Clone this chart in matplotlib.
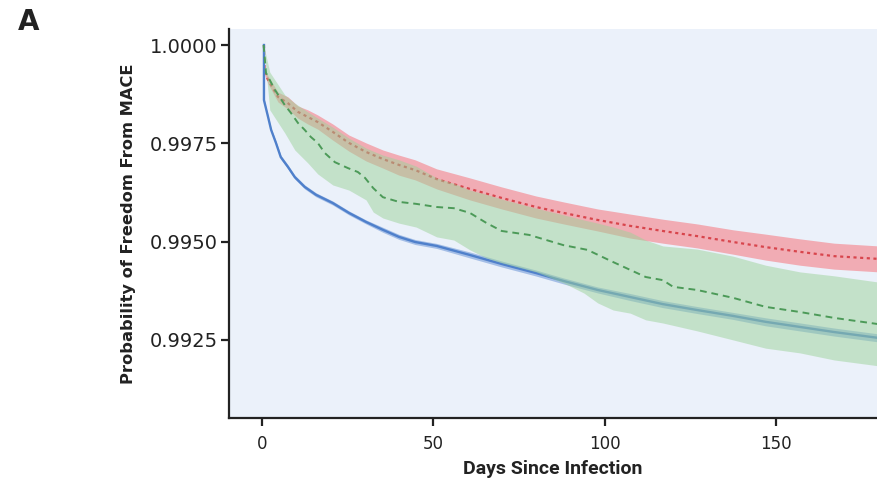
import matplotlib
matplotlib.use("Agg")
import matplotlib.pyplot as plt
import numpy as np

# ---------------- data ----------------
blue_days = [0.6, 0.6, 1.8, 2.7, 4.1, 5.5, 7.6, 9.6, 12.5, 15.8, 20.7, 25.4, 30.4, 35.3,
             40, 44.7, 51, 60.7, 70, 80, 88, 98, 107.5, 117, 127, 137.5, 147, 157, 167, 180]
blue_surv = [1.0, 0.99860, 0.99817, 0.99784, 0.99751, 0.99715, 0.99690, 0.99664, 0.99639,
             0.99619, 0.99598, 0.99573, 0.99550, 0.99530, 0.99512, 0.99499, 0.99489,
             0.99466, 0.99443, 0.99420, 0.99400, 0.99377, 0.99359, 0.99341, 0.99326,
             0.99311, 0.99296, 0.99283, 0.99270, 0.99255]
blue_ci_half = [0.0, 0.000038, 0.000038, 0.000038, 0.000051, 0.000051, 0.000051, 0.000051,
                0.000051, 0.000051, 0.000051, 0.000051, 0.000051, 0.000064, 0.000064,
                0.000064, 0.000064, 0.000076, 0.000076, 0.000076, 0.000076, 0.000076,
                0.000089, 0.000089, 0.000089, 0.000089, 0.000102, 0.000102, 0.000102,
                0.000102]

red_days = [0.6, 0.8, 1.8, 4.7, 7.6, 10.5, 13.4, 16.3, 20.7, 25.4, 30.4, 35.3, 40, 44.7,
            51, 60.7, 70, 80, 88, 98, 107.5, 117, 127, 137.5, 147, 157, 167, 180]
red_surv = [1.0, 0.99931, 0.99911, 0.99868, 0.99852, 0.99830, 0.99817, 0.99804, 0.99779,
            0.99751, 0.99728, 0.99710, 0.99695, 0.99682, 0.99659, 0.99634, 0.99611,
            0.99588, 0.99573, 0.99555, 0.99540, 0.99527, 0.99514, 0.99499, 0.99486,
            0.99474, 0.99463, 0.99456]
red_hi = [1.0, 0.99939, 0.99921, 0.99880, 0.99868, 0.99845, 0.99835, 0.99822, 0.99799,
          0.99771, 0.99751, 0.99733, 0.99720, 0.99708, 0.99685, 0.99662, 0.99639,
          0.99616, 0.99601, 0.99583, 0.99570, 0.99557, 0.99545, 0.99530, 0.99519,
          0.99507, 0.99496, 0.99489]
red_lo = [1.0, 0.99924, 0.99901, 0.99855, 0.99837, 0.99814, 0.99799, 0.99786, 0.99758,
          0.99730, 0.99705, 0.99687, 0.99669, 0.99657, 0.99634, 0.99606, 0.99583,
          0.99560, 0.99545, 0.99527, 0.99509, 0.99496, 0.99484, 0.99468, 0.99453,
          0.99440, 0.99430, 0.99423]

green_days = [0.5, 1.2, 3.8, 6.7, 8.5, 10.5, 12.5, 14.3, 16.3, 18.4, 21.3, 25.1, 28, 30.1,
              32.5, 35.3, 40, 45, 51, 56, 60.7, 65.6, 70, 78, 88, 95, 102.5, 112, 117,
              120, 127, 137.5, 147, 157, 167, 180]
green_surv = [1.0, 0.99929, 0.99886, 0.99847, 0.99827, 0.99802, 0.99784, 0.99766, 0.99751,
              0.99725, 0.99702, 0.99687, 0.99677, 0.99662, 0.99636, 0.99613, 0.99601,
              0.99596, 0.99588, 0.99585, 0.99573, 0.99547, 0.99527, 0.99517, 0.99491,
              0.99479, 0.99448, 0.99410, 0.99402, 0.99385, 0.99377, 0.99357, 0.99334,
              0.99321, 0.99306, 0.99290]

green_band_days = [0.5, 2.3, 6.7, 9.6, 13.4, 16.3, 20.7, 25.4, 30.4, 32.5, 35.3, 40, 45, 51,
                   56, 60.7, 65.6, 70, 80, 88, 94, 98, 102.5, 107.5, 112, 117, 122, 127,
                   137.5, 147, 157, 167, 180]
green_hi = [1.0, 0.99931, 0.99873, 0.99852, 0.99830, 0.99814, 0.99791, 0.99763, 0.99738,
            0.99730, 0.99720, 0.99708, 0.99692, 0.99662, 0.99648, 0.99631, 0.99620,
            0.99608, 0.99585, 0.99568, 0.99555, 0.99547, 0.99537, 0.99524, 0.99504,
            0.99489, 0.99485, 0.99481, 0.99463, 0.99440, 0.99423, 0.99413, 0.99397]
green_lo = [1.0, 0.99835, 0.99776, 0.99733, 0.99700, 0.99672, 0.99644, 0.99631, 0.99606,
            0.99575, 0.99560, 0.99547, 0.99537, 0.99512, 0.99504, 0.99479, 0.99458,
            0.99446, 0.99423, 0.99395, 0.99369, 0.99344, 0.99326, 0.99318, 0.99301,
            0.99293, 0.99283, 0.99273, 0.99250, 0.99229, 0.99217, 0.99199, 0.99184]

x_ticks = [0, 50, 100, 150]
y_ticks = [1.0, 0.9975, 0.9950, 0.9925]
x_label = "Days Since Infection"
y_label = "Probability of Freedom From MACE"
panel_label = "A"

# ---------------- figure ----------------
fig = plt.figure(figsize=(8.77, 4.84), dpi=100)
ax = fig.add_axes([229 / 877, 66 / 484, 1 - 229 / 877, (418 - 29) / 484])
ax.set_facecolor("#EBF1FA")

bs = np.array(blue_surv)
bh = np.array(blue_ci_half)

ax.fill_between(red_days, red_lo, red_hi, color="#F3A0A8", alpha=0.85, lw=0, zorder=1)
ax.plot(red_days, red_surv, color="#D8454C", lw=1.6, ls=(0, (1.4, 1.6)), zorder=2)
ax.fill_between(blue_days, bs - bh, bs + bh, color="#93B2E2", alpha=0.8, lw=0, zorder=3)
ax.plot(blue_days, blue_surv, color="#4F80CB", lw=1.7, zorder=4)
ax.fill_between(green_band_days, green_lo, green_hi, color="#9CD29A", alpha=0.5, lw=0, zorder=5)
ax.plot(green_days, green_surv, color="#4C9A58", lw=1.4, ls=(0, (3.5, 2.5)), zorder=6)

ax.set_xlim(-9.6, 179.5)
ax.set_ylim(0.990514, 1.000407)
ax.set_xticks(x_ticks)
ax.set_yticks(y_ticks)
ax.set_yticklabels([f"{v:.4f}" for v in y_ticks], fontsize=14, color="#222222")
ax.set_xticklabels([str(v) for v in x_ticks], fontsize=12, color="#222222")

for s in ["top", "right"]:
    ax.spines[s].set_visible(False)
for s in ["left", "bottom"]:
    ax.spines[s].set_linewidth(1.6)
    ax.spines[s].set_color("#222222")
ax.tick_params(axis="both", length=6, width=1.6, color="#222222")
ax.tick_params(axis="y", pad=2)
ax.tick_params(axis="x", pad=6)

ax.set_xlabel(x_label, fontsize=14, fontweight="bold",
              family=["Roboto", "DejaVu Sans"], labelpad=5, color="#222222")
ax.set_ylabel(y_label, fontsize=11.7, fontweight="bold", labelpad=10, color="#222222")

fig.text(0.02, 0.938, panel_label, fontsize=20, fontweight="bold", color="#222222")

fig.savefig("out.png", dpi=100)
